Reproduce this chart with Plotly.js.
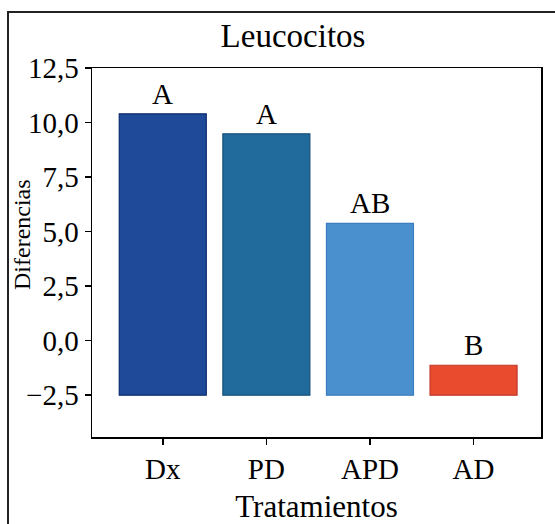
<!DOCTYPE html>
<html>
<head>
<meta charset="utf-8">
<script src="https://cdn.plot.ly/plotly-3.0.1.min.js"></script>
<style>html,body{margin:0;padding:0;background:#fff;}#chart{width:555px;height:524px;}</style>
</head>
<body>
<div id="chart"></div>
<script>
const categories = ["Dx", "PD", "APD", "AD"];
const values = [10.4, 9.48, 5.38, -1.13];
const groupLetters = ["A", "A", "AB", "B"];
const baseValue = -2.5;
const barColors = ["#1f4a9a", "#216a9c", "#4a90cf", "#e94b2e"];
const barEdges = ["#0b2a6e", "#17507a", "#3a7cbf", "#c0392b"];
const yTicks = [-2.5, 0, 2.5, 5, 7.5, 10, 12.5];

const serif = "Liberation Serif, Times New Roman, serif";

const L = 92, R = 14, T = 68, B = 87, W = 555, H = 524;
const pw = W - L - R, ph = H - T - B;

const trace = {
  type: "bar",
  x: categories,
  y: values.map(v => v - baseValue),
  base: baseValue,
  width: 0.84,
  marker: { color: barColors, line: { color: barEdges, width: 1.2 } },
  hoverinfo: "skip",
  cliponaxis: false
};

const annotations = categories.map((c, i) => ({
  x: c, y: values[i], xref: "x", yref: "y",
  text: groupLetters[i], showarrow: false,
  yanchor: "bottom", yshift: 2,
  font: { family: serif, size: 29, color: "#000" }
}));
annotations.push({
  x: (22 - L) / pw, y: 1 - (235 - T) / ph, xref: "paper", yref: "paper",
  xanchor: "center", yanchor: "middle",
  text: "Diferencias", showarrow: false, textangle: -90,
  font: { family: serif, size: 24, color: "#000" }
});

const layout = {
  width: W, height: H,
  margin: { l: L, r: R, t: T, b: B },
  paper_bgcolor: "#fff", plot_bgcolor: "#fff",
  separators: ",.",
  showlegend: false,
  font: { family: serif, color: "#000" },
  title: {
    text: "Leucocitos",
    font: { family: serif, size: 33, color: "#000" },
    x: 293 / W, xanchor: "center", xref: "container",
    y: 1 - 35 / H, yanchor: "middle", yref: "container"
  },
  xaxis: {
    range: [-0.683, 3.651],
    showline: true, mirror: true, linecolor: "#000", linewidth: 1.5,
    ticks: "outside", ticklen: 6, tickcolor: "#000", tickwidth: 1.5,
    tickfont: { family: serif, size: 29, color: "#000" },
    showgrid: false, zeroline: false,
    title: { text: "Tratamientos", font: { family: serif, size: 31, color: "#000" }, standoff: 14 }
  },
  yaxis: {
    range: [-4.42, 12.5],
    tickvals: yTicks, tickformat: ".1f",
    showline: true, mirror: true, linecolor: "#000", linewidth: 1.5,
    ticks: "outside", ticklen: 6, tickcolor: "#000", tickwidth: 1.5,
    tickfont: { family: serif, size: 29, color: "#000" },
    showgrid: false, zeroline: false
  },
  annotations: annotations,
  shapes: [{
    type: "rect", xref: "paper", yref: "paper",
    x0: (8 - L) / pw, x1: 1 + (R + 10) / pw,
    y0: -(B + 10) / ph, y1: 1 + (T - 12) / ph,
    line: { color: "#222", width: 2 }, fillcolor: "rgba(0,0,0,0)", layer: "below"
  }]
};

Plotly.newPlot("chart", [trace], layout, { displayModeBar: false, staticPlot: true });
</script>
</body>
</html>
